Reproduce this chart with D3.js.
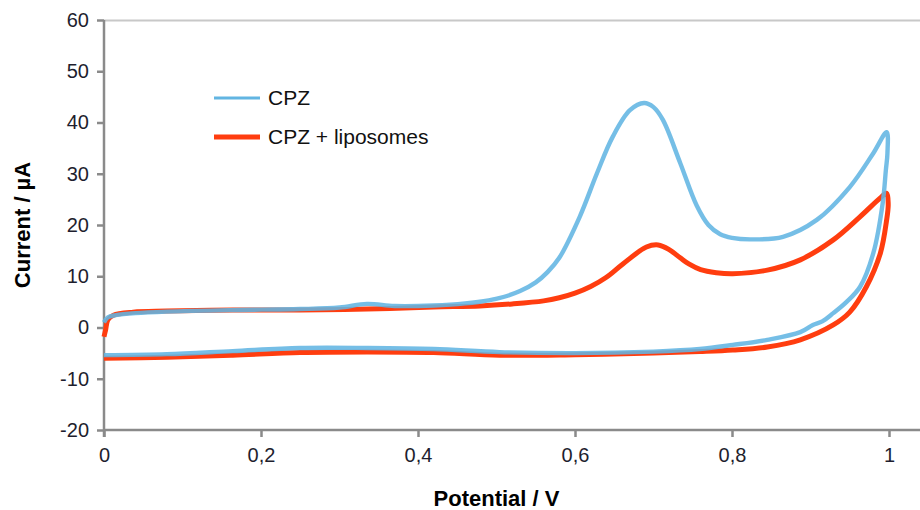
<!DOCTYPE html>
<html>
<head>
<meta charset="utf-8">
<script src="https://cdn.jsdelivr.net/npm/d3@7"></script>
<style>
  body { margin: 0; background: #fff; }
  text { font-family: "Liberation Sans", Arial, sans-serif; }
</style>
</head>
<body>
<div id="chart"></div>
<script>
// CPZ: forward scan then reverse scan (potential in V, current in µA)
const cpzV = [0, 0.005, 0.015, 0.04, 0.08, 0.16, 0.25, 0.30, 0.335, 0.37, 0.42, 0.46, 0.49, 0.51, 0.53, 0.55, 0.565, 0.58, 0.606, 0.628, 0.648, 0.67, 0.688, 0.70, 0.712, 0.734, 0.755, 0.77, 0.785, 0.80, 0.823, 0.865, 0.908, 0.95, 0.98, 0.997,
  0.998, 0.996, 0.992, 0.98, 0.963, 0.946, 0.929, 0.915, 0.903, 0.887, 0.845, 0.801, 0.759, 0.70, 0.60, 0.504, 0.42, 0.335, 0.25, 0.164, 0.08, 0]
const cpzI = [1.0, 2.0, 2.4, 2.8, 3.1, 3.4, 3.6, 3.9, 4.6, 4.2, 4.3, 4.7, 5.3, 6.0, 7.1, 8.8, 10.8, 13.6, 21.6, 30.1, 37.2, 42.4, 43.8, 43.0, 40.5, 32.1, 23.8, 20.0, 18.2, 17.5, 17.2, 17.7, 21.0, 27.4, 34.0, 38.1,
  34, 30.7, 24.3, 14.5, 7.9, 5.0, 2.8, 1.2, 0.5, -0.9, -2.4, -3.4, -4.2, -4.7, -5.0, -4.8, -4.2, -4.0, -4.0, -4.6, -5.2, -5.4]

// CPZ + liposomes
const lipoV = [0, 0.002, 0.005, 0.012, 0.037, 0.08, 0.164, 0.25, 0.335, 0.42, 0.479, 0.52, 0.56, 0.58, 0.60, 0.62, 0.64, 0.661, 0.691, 0.706, 0.72, 0.734, 0.745, 0.76, 0.78, 0.801, 0.845, 0.887, 0.929, 0.963, 0.989, 0.997,
  0.999, 0.997, 0.989, 0.971, 0.95, 0.929, 0.887, 0.845, 0.801, 0.759, 0.70, 0.60, 0.504, 0.42, 0.335, 0.25, 0.164, 0.08, 0]
const lipoI = [-1.8, -0.5, 1.5, 2.4, 3.0, 3.2, 3.4, 3.4, 3.6, 4.0, 4.2, 4.6, 5.2, 5.8, 6.7, 8.0, 9.8, 12.4, 15.7, 16.1, 15.2, 13.6, 12.4, 11.3, 10.7, 10.5, 11.2, 13.2, 17.1, 21.6, 25.3, 26.2,
  24, 21, 14.5, 7.9, 3.0, 0.5, -2.4, -3.8, -4.4, -4.7, -5.0, -5.3, -5.4, -4.9, -4.8, -4.9, -5.4, -5.8, -6.0]

const xTicks = [0, 0.2, 0.4, 0.6, 0.8, 1]
const yTicks = [-20, -10, 0, 10, 20, 30, 40, 50, 60]
const seriesNames = ["CPZ", "CPZ + liposomes"]
const seriesColors = ["#62b5e2", "#ff3d0f"]

const W = 920, H = 510
const margin = {top: 20, right: 31, bottom: 80, left: 104}
const innerW = W - margin.left - margin.right
const innerH = H - margin.top - margin.bottom

const x = d3.scaleLinear().domain([0, 1]).range([0, innerW])
const y = d3.scaleLinear().domain([-20, 60]).range([innerH, 0])

const svg = d3.select("#chart").append("svg").attr("width", W).attr("height", H)
const g = svg.append("g").attr("transform", `translate(${margin.left},${margin.top})`)

// top border line
g.append("line")
  .attr("x1", 0).attr("x2", W - margin.left)
  .attr("y1", y(60) + 0.5).attr("y2", y(60) + 0.5)
  .attr("stroke", "#c8c8c8").attr("stroke-width", 2)

const yAxis = d3.axisLeft(y).tickValues(yTicks).tickSize(7).tickPadding(8).tickFormat(d => String(d))
const xAxis = d3.axisBottom(x).tickValues(xTicks).tickSize(7).tickPadding(11)
  .tickFormat(d => String(d).replace(".", ","))

const xg = g.append("g").attr("transform", `translate(0,${innerH})`).call(xAxis)
xg.select(".domain").attr("d", `M0,0H${W - margin.left}`)
const yg = g.append("g").call(yAxis)
yg.select(".domain").attr("d", `M0,0V${innerH + 7}`)

for (const ax of [xg, yg]) {
  ax.select(".domain").attr("stroke", "#8a8a8a").attr("stroke-width", 2.5)
  ax.selectAll(".tick line").attr("stroke", "#8a8a8a").attr("stroke-width", 2.5)
  ax.selectAll(".tick text").attr("fill", "#1e1e2e").style("font-size", "20px")
}

const line = d3.line()
  .x(d => x(d[0]))
  .y(d => y(d[1]))
  .curve(d3.curveCatmullRom.alpha(0.5))

const lipoData = d3.zip(lipoV, lipoI)
const cpzData = d3.zip(cpzV, cpzI)

g.append("path").datum(lipoData).attr("d", line)
  .attr("fill", "none").attr("stroke", seriesColors[1]).attr("stroke-width", 5)
  .attr("stroke-linejoin", "round")
g.append("path").datum(cpzData).attr("d", line)
  .attr("fill", "none").attr("stroke", seriesColors[0]).attr("stroke-width", 4.4)
  .attr("stroke-linejoin", "round").attr("opacity", 0.88)

// legend
const legend = svg.append("g")
seriesNames.forEach((name, i) => {
  const ly = 98 + i * 39
  legend.append("line").attr("x1", 214).attr("x2", 260).attr("y1", ly).attr("y2", ly)
    .attr("stroke", seriesColors[i]).attr("stroke-width", i == 0 ? 3 : 5)
  legend.append("text").attr("x", 268).attr("y", ly).attr("dy", "0.35em")
    .style("font-size", "21px").attr("fill", "#111").text(name)
})

// axis titles
svg.append("text")
  .attr("x", margin.left + x(0.5)).attr("y", 506)
  .attr("text-anchor", "middle").style("font-size", "22px").style("font-weight", "bold")
  .text("Potential / V")
svg.append("text")
  .attr("transform", `translate(30,${margin.top + innerH / 2}) rotate(-90)`)
  .attr("text-anchor", "middle").style("font-size", "22px").style("font-weight", "bold")
  .text("Current / µA")
</script>
</body>
</html>
